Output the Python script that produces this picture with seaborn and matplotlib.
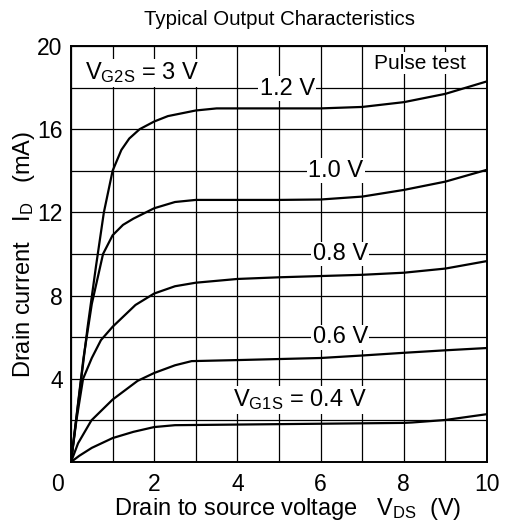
import numpy as np
import pandas as pd
import matplotlib
matplotlib.use('Agg')
import matplotlib.pyplot as plt
import seaborn as sns

# drain-source voltage (V) and drain current (mA) for each gate-1 voltage
vds_12 = [0, 0.4, 0.6, 0.79, 1.0, 1.21, 1.4, 1.65, 2.0, 2.33, 3.0, 3.5, 4.0, 5.0, 6.0, 7.0, 8.0, 9.0, 10.0]
id_12 = [0, 6.5, 9.4, 12.0, 14.0, 15.0, 15.55, 16.0, 16.37, 16.63, 16.9, 17.0, 17.0, 17.0, 17.0, 17.07, 17.3, 17.7, 18.3]

vds_10 = [0, 0.3, 0.5, 0.77, 1.0, 1.25, 1.5, 2.0, 2.5, 3.0, 4.0, 5.0, 6.0, 7.0, 8.0, 9.0, 10.0]
id_10 = [0, 5.0, 7.6, 10.0, 10.9, 11.4, 11.7, 12.2, 12.5, 12.6, 12.6, 12.6, 12.62, 12.76, 13.08, 13.48, 14.05]

vds_08 = [0, 0.13, 0.29, 0.5, 0.72, 1.0, 1.55, 2.0, 2.5, 3.0, 4.0, 5.0, 6.0, 7.0, 8.0, 9.0, 10.0]
id_08 = [0, 2.0, 4.0, 5.0, 5.86, 6.5, 7.55, 8.1, 8.45, 8.62, 8.8, 8.88, 8.94, 9.0, 9.1, 9.3, 9.66]

vds_06 = [0, 0.17, 0.49, 1.0, 1.6, 2.0, 2.5, 2.9, 4.0, 5.0, 6.0, 7.0, 8.0, 9.0, 10.0]
id_06 = [0, 0.9, 2.0, 3.0, 3.9, 4.28, 4.65, 4.85, 4.9, 4.95, 5.0, 5.12, 5.25, 5.37, 5.48]

vds_04 = [0, 0.2, 0.5, 1.0, 1.5, 2.0, 2.5, 3.0, 4.0, 6.0, 8.0, 8.2, 9.0, 10.0]
id_04 = [0, 0.3, 0.68, 1.15, 1.45, 1.68, 1.77, 1.78, 1.8, 1.84, 1.88, 1.9, 2.02, 2.3]

curve_labels = ['1.2 V', '1.0 V', '0.8 V', '0.6 V', '$\\mathregular{V_{G1S}}$ = 0.4 V']
label_x = [5.2, 6.37, 6.47, 6.47, 5.5]
label_y = [17.95, 14.0, 10.0, 6.0, 2.98]

plt.rcParams['font.family'] = ['Liberation Sans', 'DejaVu Sans']
plt.rcParams['mathtext.fontset'] = 'custom'
plt.rcParams['mathtext.rm'] = 'Liberation Sans'

frames = []
for name, vx, iy in [('1.2', vds_12, id_12), ('1.0', vds_10, id_10), ('0.8', vds_08, id_08),
                     ('0.6', vds_06, id_06), ('0.4', vds_04, id_04)]:
    frames.append(pd.DataFrame({'VDS': vx, 'ID': iy, 'VG1S': name}))
df = pd.concat(frames, ignore_index=True)

fig = plt.figure(figsize=(5.09, 5.31), dpi=100)
ax = fig.add_axes([71 / 509, 69 / 531, 416 / 509, 416 / 531])

sns.lineplot(data=df, x='VDS', y='ID', units='VG1S', estimator=None, color='black',
             linewidth=1.6, sort=False, legend=False, ax=ax)

ax.set_xlim(0, 10)
ax.set_ylim(0, 20)
ax.set_xticks(np.arange(0, 11, 1))
ax.set_xticklabels(['' if (v % 2 or v == 0) else str(v) for v in range(11)])
ax.set_yticks(np.arange(0, 21, 2))
ax.set_yticklabels(['' if (v % 4 or v == 0) else str(v) for v in range(0, 21, 2)])
ax.tick_params(length=0, labelsize=16.5)
ax.tick_params(axis='x', pad=8)
ax.tick_params(axis='y', pad=6)
ax.grid(True, color='black', linewidth=0.9)
for s in ax.spines.values():
    s.set_linewidth(1.4)
ax.annotate('0', xy=(0, 0), xycoords='axes fraction', xytext=(-10, -8),
            textcoords='offset points', ha='center', va='top', fontsize=16.5)

ax.set_xlabel('Drain to source voltage   $\\mathregular{V_{DS}}$  (V)', fontsize=17, va='center')
ax.set_ylabel('Drain current   $\\mathregular{I_D}$   (mA)', fontsize=17, va='center')
ax.xaxis.set_label_coords(0.52, -0.113)
ax.yaxis.set_label_coords(-0.113, 0.5)
ax.set_title('Typical Output Characteristics', fontsize=14.7, pad=15)

box = dict(facecolor='white', edgecolor='none', pad=1)
for txt, x, y in zip(curve_labels, label_x, label_y):
    ax.text(x, y, txt, ha='center', va='center', fontsize=17, bbox=box)
ax.text(0.33, 18.7, '$\\mathregular{V_{G2S}}$ = 3 V', ha='left', va='center', fontsize=17, bbox=box)
ax.text(8.39, 19.18, 'Pulse test', ha='center', va='center', fontsize=15, bbox=box)

fig.savefig('out.png', dpi=100)
